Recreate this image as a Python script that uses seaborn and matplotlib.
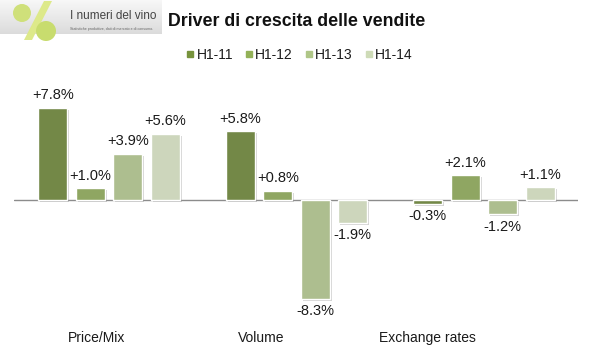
import matplotlib
matplotlib.use("Agg")
import matplotlib.pyplot as plt
import matplotlib.patheffects as pe
from matplotlib import font_manager
from matplotlib.lines import Line2D
from matplotlib.patches import Polygon, Circle
import seaborn as sns
import pandas as pd
import numpy as np

# ---- data ----
categories = ["Price/Mix", "Volume", "Exchange rates"]
periods = ["H1-11", "H1-12", "H1-13", "H1-14"]
h1_11 = [7.8, 5.8, -0.3]
h1_12 = [1.0, 0.8, 2.1]
h1_13 = [3.9, -8.3, -1.2]
h1_14 = [5.6, -1.9, 1.1]
colors = ["#77933C", "#93B157", "#AFC687", "#CEDBB7"]

series = {"H1-11": h1_11, "H1-12": h1_12, "H1-13": h1_13, "H1-14": h1_14}
rows = []
for p in periods:
    for c, v in zip(categories, series[p]):
        rows.append({"driver": c, "period": p, "value": v})
df = pd.DataFrame(rows)

sns.set_theme(style="white")
names = {f.name for f in font_manager.fontManager.ttflist}
narrow = "Liberation Sans Narrow" if "Liberation Sans Narrow" in names else "Liberation Sans"
plt.rcParams["font.family"] = ["Liberation Sans", "DejaVu Sans"]

fig = plt.figure(figsize=(5.92, 3.55), dpi=100)
ax = fig.add_axes([0.0236, 0.0986, 0.9527, 0.6904])

sns.barplot(data=df, x="driver", y="value", hue="period", hue_order=periods,
            order=categories, palette=colors, width=0.8, gap=0.23,
            edgecolor="white", linewidth=1, legend=False, ax=ax)

shadow = [pe.SimplePatchShadow(offset=(1.5, -1.5), shadow_rgbFace="#808080", alpha=0.35), pe.Normal()]
for cont in ax.containers:
    for bar in cont:
        bar.set_path_effects(shadow)
        v = bar.get_height()
        cx = bar.get_x() + bar.get_width() / 2
        if v >= 0:
            ax.annotate(f"{v:+.1f}%", xy=(cx, v), xytext=(0, 4), textcoords="offset points",
                        ha="center", va="bottom", fontsize=10.5, color="#1a1a1a")
        else:
            ax.annotate(f"{v:+.1f}%", xy=(cx, v), xytext=(0, -4), textcoords="offset points",
                        ha="center", va="top", fontsize=10.5, color="#1a1a1a")

ax.axhline(0, color="#8c8c8c", lw=1, zorder=0.5)
ax.set_xlim(-0.507, 2.501)
ax.set_ylim(-10.1, 10.55)
for s in ax.spines.values():
    s.set_visible(False)
ax.set_yticks([])
ax.set_xlabel("")
ax.set_ylabel("")
ax.set_xticks([-0.069, 0.813, 1.696])
ax.set_xticklabels(categories, fontsize=10, family=[narrow, "DejaVu Sans"], color="#1a1a1a")
ax.tick_params(axis="x", length=0, pad=8)

# legend
handles = [Line2D([0], [0], marker="s", linestyle="none", markersize=5,
                  markerfacecolor=c, markeredgecolor=c) for c in colors]
fig.legend(handles, periods, loc="center", bbox_to_anchor=(299 / 592, 1 - 55 / 355),
           ncol=4, frameon=False, fontsize=10, handletextpad=0.1, columnspacing=0.8,
           handlelength=0.7, labelcolor="#1a1a1a")

# title
fig.text(168 / 592, 1 - 22 / 355, "Driver di crescita delle vendite", fontsize=12.8,
         fontweight="bold", family=[narrow, "DejaVu Sans"], va="center", ha="left", color="#111111")

# logo
lax = fig.add_axes([0, 1 - 42 / 355, 165 / 592, 42 / 355])
lax.set_xlim(0, 165)
lax.set_ylim(42, 0)
lax.axis("off")
grad = np.linspace(0.97, 0.86, 64).reshape(-1, 1)
lax.imshow(np.dstack([grad, grad, grad]), extent=(0, 162, 34, 0), aspect="auto", zorder=0)
lax.add_patch(Polygon([[44, 1], [52, 1], [32, 40], [24, 40]], closed=True,
                      facecolor="#dde98a", edgecolor="none", zorder=1))
lax.add_patch(Circle((22, 13), 9, facecolor="#cfe07a", edgecolor="none", zorder=2))
lax.add_patch(Circle((46, 31), 10, facecolor="#c8dc6e", edgecolor="none", zorder=2))
lax.text(70, 16, "I numeri del vino", fontsize=8.5, family=[narrow, "DejaVu Sans"],
         color="#444444", va="center", ha="left")
lax.text(70, 29, "Statistiche produttive, dati di mercato e di consumo.", fontsize=2.6,
         color="#666666", va="center", ha="left")

fig.savefig("out.png", dpi=100)
